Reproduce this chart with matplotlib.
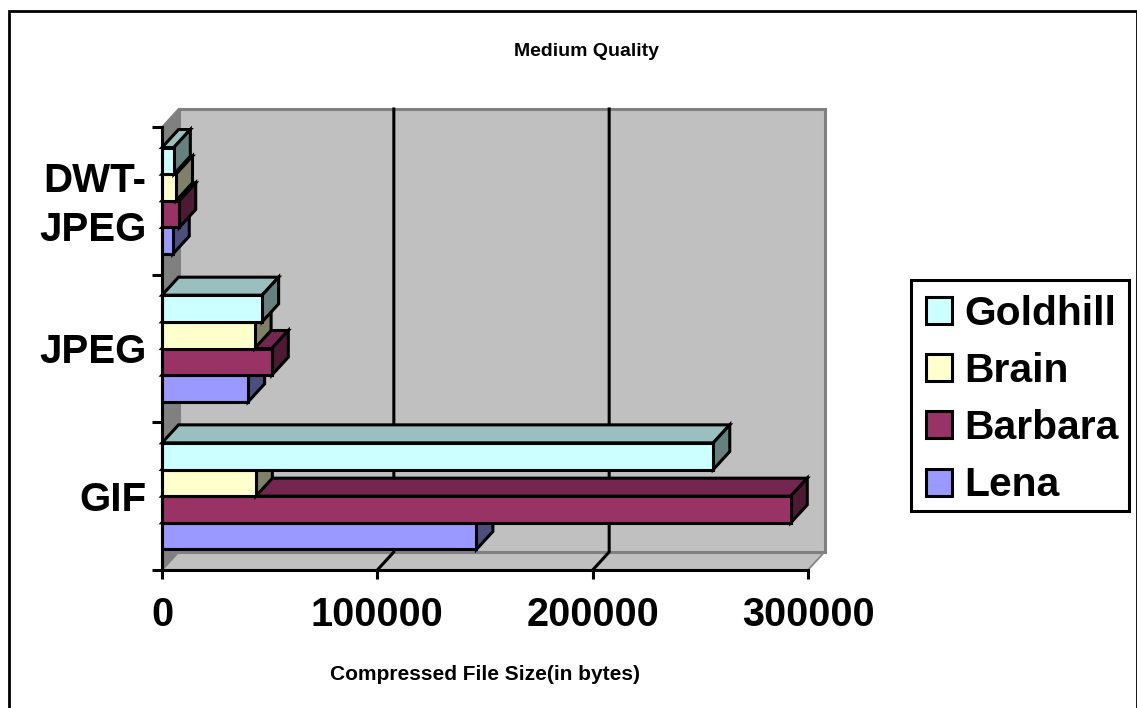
import matplotlib
matplotlib.use("Agg")
import matplotlib.pyplot as plt
from matplotlib.patches import Polygon, Patch, Rectangle

plt.rcParams['font.family'] = ['Liberation Sans', 'DejaVu Sans']
plt.rcParams['font.weight'] = 'bold'

categories = ["GIF", "JPEG", "DWT-\nJPEG"]
series = ["Lena", "Barbara", "Brain", "Goldhill"]
lena = [146000, 40000, 5000]
barbara = [292000, 51000, 8000]
brain = [43600, 43000, 6500]
goldhill = [256000, 46500, 5500]
values = [lena, barbara, brain, goldhill]

front = ["#9999FF", "#993366", "#FFFFCC", "#CCFFFF"]
top = ["#7373BF", "#732650", "#BFBF99", "#99BFBF"]
side = ["#4D4D80", "#4D1A33", "#808066", "#668080"]

W, H = 1137, 708
fig = plt.figure(figsize=(W / 100, H / 100), dpi=100)
L, R, T, B = 162, 808, 127, 570
ax = fig.add_axes([L / W, 1 - B / H, (R - L) / W, (B - T) / H])
xmax = 300000
ax.set_xlim(0, xmax)
ax.set_ylim(0, 3)

# depth of the 3d box, in data units
dx = 16.5 * xmax / (R - L)
dy = 18 * 3 / (B - T)
bar_h = 0.1805
margin = (1 - 4 * bar_h) / 2
lw = 2.2


def poly(pts, fc, ec, width, z):
    ax.add_patch(Polygon(pts, closed=True, facecolor=fc, edgecolor=ec, linewidth=width,
                         zorder=z, clip_on=False, joinstyle='miter'))


# walls and floor
poly([(0, 0), (xmax, 0), (xmax + dx, dy), (dx, dy)], "#C0C0C0", "#808080", 1.2, 1)
poly([(0, 0), (dx, dy), (dx, 3 + dy), (0, 3)], "#808080", "#808080", 1.2, 1)
poly([(dx, dy), (xmax + dx, dy), (xmax + dx, 3 + dy), (dx, 3 + dy)], "#C0C0C0", "#808080", 2.2, 1.5)

for g in [100000, 200000]:
    ax.plot([g, g + dx, g + dx], [0, dy, 3 + dy], color="black", lw=lw, zorder=2, clip_on=False)

# bars, bottom one first so the upper ones sit on top
z = 3
for c in range(len(categories)):
    for s in range(len(series)):
        v = values[s][c]
        y0 = c + margin + s * bar_h
        y1 = y0 + bar_h
        poly([(0, y1), (v, y1), (v + dx, y1 + dy), (dx, y1 + dy)], top[s], "black", lw, z)
        poly([(v, y0), (v + dx, y0 + dy), (v + dx, y1 + dy), (v, y1)], side[s], "black", lw, z)
        poly([(0, y0), (v, y0), (v, y1), (0, y1)], front[s], "black", lw, z + 0.1)
        z += 1

for name in ["top", "right"]:
    ax.spines[name].set_visible(False)
for name in ["left", "bottom"]:
    ax.spines[name].set_linewidth(lw)
    ax.spines[name].set_zorder(50)

ax.set_xticks([0, 100000, 200000, 300000])
ax.set_xticklabels(["0", "100000", "200000", "300000"], fontsize=28.5, fontweight='bold')
ax.tick_params(axis='x', length=6.5, width=lw, pad=12.5)
ax.set_yticks([0, 1, 2, 3])
ax.set_yticklabels([])
ax.tick_params(axis='y', which='major', length=7, width=lw)
# the two-line label needs a small nudge to sit centred on its group
ax.set_yticks([0.5, 1.505, 2.535], minor=True)
ax.set_yticklabels(categories, minor=True, fontsize=29, fontweight='bold', linespacing=1.39)
ax.tick_params(axis='y', which='minor', length=0, pad=11)

fig.text(586 / W, 1 - 52 / H, "Medium Quality", ha='center', va='center', fontsize=14, fontweight='bold')
fig.text(485 / W, 1 - 674 / H, "Compressed File Size(in bytes)", ha='center', va='center', fontsize=15, fontweight='bold')

# legend box, entries listed from back to front
fig.add_artist(Rectangle((911 / W, 1 - 511 / H), (1129 - 911) / W, (511 - 280) / H, transform=fig.transFigure,
                         facecolor="white", edgecolor="black", linewidth=2.2))
handles = [Patch(facecolor=front[i], edgecolor="black", linewidth=lw, label=series[i]) for i in [3, 2, 1, 0]]
leg = fig.legend(handles=handles, loc='upper left', bbox_to_anchor=(926 / W, 1 - 295 / H),
                 fontsize=29.3, frameon=False, handlelength=0.64, handleheight=0.64,
                 handletextpad=0.3, labelspacing=0.47, borderpad=0, borderaxespad=0)

# outer border, running off the bottom of the canvas
fig.add_artist(Rectangle((8.5 / W, -0.02), (1136.5 - 8.5) / W, (1 - 11 / H) + 0.02, transform=fig.transFigure,
                         fill=False, edgecolor="black", linewidth=2.0))

fig.savefig("out.png", dpi=100)
